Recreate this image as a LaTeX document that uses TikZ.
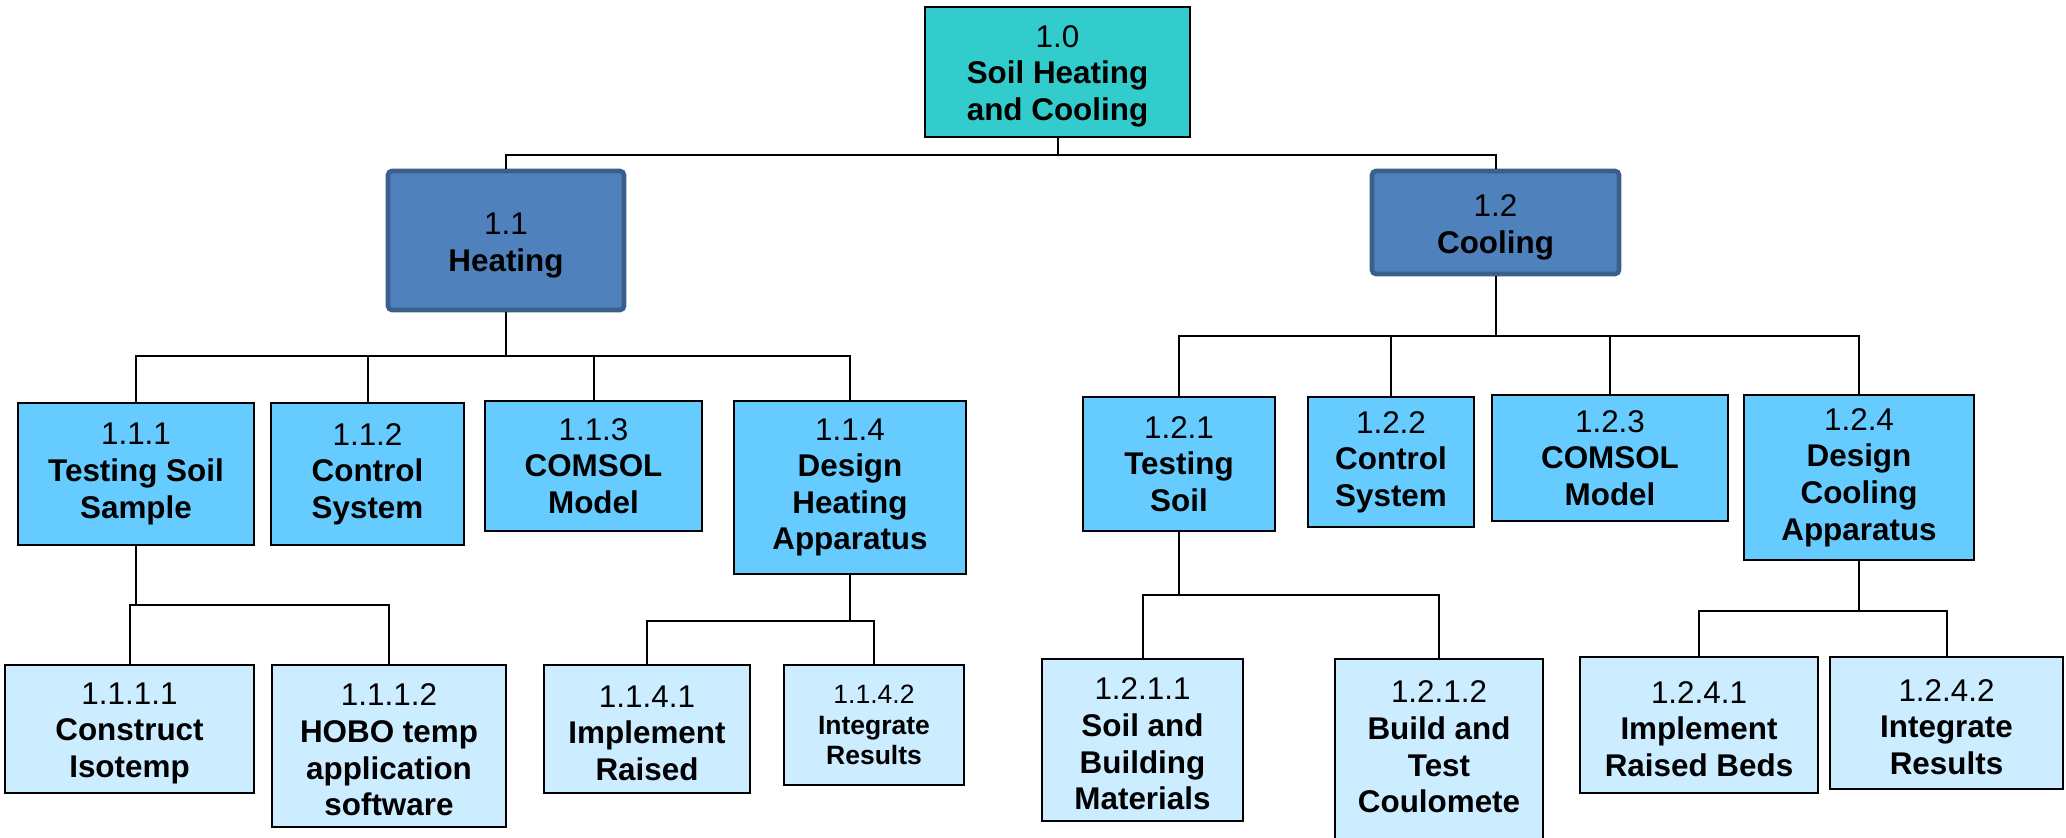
\documentclass[tikz,border=0pt]{standalone}
\usepackage{fontspec}
\setmainfont{Liberation Sans}
\definecolor{teal1}{HTML}{33CCCC}
\definecolor{blueA}{HTML}{4F81BD}
\definecolor{blueAd}{HTML}{3A5F8B}
\definecolor{sky}{HTML}{66CCFF}
\definecolor{pale}{HTML}{CCECFF}
\tikzset{
 box/.style={rectangle, draw=black, line width=1.1pt, inner sep=0pt, align=center, font=\fontsize{15.7}{18.3}\selectfont},
 topbox/.style={box, fill=teal1},
 midbox/.style={box, fill=blueA, draw=blueAd, line width=2.3pt, rounded corners=2pt},
 lvthree/.style={box, fill=sky},
 lvfour/.style={box, fill=pale},
 link/.style={line width=1pt, draw=black},
}
\newcommand\wbs[7]{\node[#6, minimum width={(#4-#2)*0.5pt}, minimum height={(#5-#3)*0.5pt}] (#1) at ({(#2+#4)/2},{(#3+#5)/2}) {#7};}
\newcommand\upst{\rule{0pt}{15pt}}
\newcommand\upstb{\rule{0pt}{16pt}}
\begin{document}
\begin{tikzpicture}[x=0.5pt,y=-0.5pt]
\clip (0,0) rectangle (2066,838);
\fill[white] (0,0) rectangle (2066,838);
% level 1-2
\wbs{n10}{925}{7}{1190}{137}{topbox}{\upst 1.0\\\textbf{Soil Heating}\\\textbf{and Cooling}}
\wbs{n11}{388}{171}{624}{310}{midbox}{\upstb 1.1\\\textbf{Heating}}
\wbs{n12}{1372}{171}{1619}{274}{midbox}{\upstb 1.2\\\textbf{Cooling}}
% level 3
\wbs{n111}{18}{403}{254}{545}{lvthree}{1.1.1\\\textbf{Testing Soil}\\\textbf{Sample}}
\wbs{n112}{271}{403}{464}{545}{lvthree}{1.1.2\\\textbf{Control}\\\textbf{System}}
\wbs{n113}{485}{401}{702}{531}{lvthree}{1.1.3\\\textbf{COMSOL}\\\textbf{Model}}
\wbs{n114}{734}{401}{966}{574}{lvthree}{1.1.4\\\textbf{Design}\\\textbf{Heating}\\\textbf{Apparatus}}
\wbs{n121}{1083}{397}{1275}{531}{lvthree}{1.2.1\\\textbf{Testing}\\\textbf{Soil}}
\wbs{n122}{1308}{397}{1474}{527}{lvthree}{1.2.2\\\textbf{Control}\\\textbf{System}}
\wbs{n123}{1492}{395}{1728}{521}{lvthree}{1.2.3\\\textbf{COMSOL}\\\textbf{Model}}
\wbs{n124}{1744}{395}{1974}{560}{lvthree}{1.2.4\\\textbf{Design}\\\textbf{Cooling}\\\textbf{Apparatus}}
% level 4
\wbs{n1111}{5}{665}{254}{793}{lvfour}{\upst 1.1.1.1\\\textbf{Construct}\\\textbf{Isotemp}}
\wbs{n1112}{272}{665}{506}{827}{lvfour}{\upst 1.1.1.2\\\textbf{HOBO temp}\\\textbf{application}\\\textbf{software}}
\wbs{n1141}{544}{665}{750}{793}{lvfour}{\upst 1.1.4.1\\\textbf{Implement}\\\textbf{Raised}}
\wbs{n1142}{784}{665}{964}{785}{lvfour, font=\fontsize{13.25}{15.3}\selectfont}{1.1.4.2\\\textbf{Integrate}\\\textbf{Results}}
\wbs{n1211}{1042}{659}{1243}{821}{lvfour}{\upst 1.2.1.1\\\textbf{Soil and}\\\textbf{Building}\\\textbf{Materials}}
\wbs{n1212}{1335}{659}{1543}{863}{lvfour}{\upst 1.2.1.2\\\textbf{Build and}\\\textbf{Test}\\\textbf{Coulomete}\\\mbox{}}
\wbs{n1241}{1580}{657}{1818}{793}{lvfour}{\upst 1.2.4.1\\\textbf{Implement}\\\textbf{Raised Beds}}
\wbs{n1242}{1830}{657}{2063}{789}{lvfour}{\upst 1.2.4.2\\\textbf{Integrate}\\\textbf{Results}}
% connectors
\draw[link] (n10.south) -- ++(0,17) coordinate (b0);
\draw[link] (b0) -| (n11.north);
\draw[link] (b0) -| (n12.north);
\draw[link] (n11.south) -- ++(0,44) coordinate (b11);
\foreach \c in {n111,n112,n113,n114} \draw[link] (b11) -| (\c.north);
\draw[link] (n12.south) -- ++(0,60) coordinate (b12);
\foreach \c in {n121,n122,n123,n124} \draw[link] (b12) -| (\c.north);
\draw[link] (n111.south) -- ++(0,59) coordinate (b111);
\foreach \c in {n1111,n1112} \draw[link] (b111) -| (\c.north);
\draw[link] (n114.south) -- ++(0,46) coordinate (b114);
\foreach \c in {n1141,n1142} \draw[link] (b114) -| (\c.north);
\draw[link] (n121.south) -- ++(0,63) coordinate (b121);
\foreach \c in {n1211,n1212} \draw[link] (b121) -| (\c.north);
\draw[link] (n124.south) -- ++(0,50) coordinate (b124);
\foreach \c in {n1241,n1242} \draw[link] (b124) -| (\c.north);
\end{tikzpicture}
\end{document}
